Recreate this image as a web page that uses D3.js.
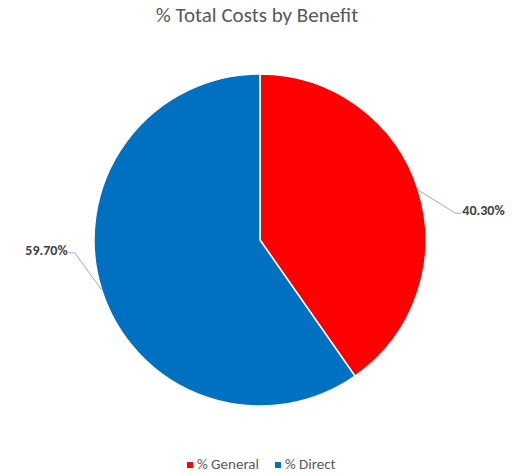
<!DOCTYPE html>
<html>
<head>
<meta charset="utf-8">
<script src="https://cdn.jsdelivr.net/npm/d3@7"></script>
<style>
  body { margin: 0; background: #fff; }
  svg { display: block; font-family: Carlito, Calibri, "Open Sans", sans-serif; }
</style>
</head>
<body>
<svg id="chart" width="512" height="476" viewBox="0 0 512 476"></svg>
<script>
var categories = ['% General', '% Direct'];
var values = [40.30, 59.70];
var labels = ['40.30%', '59.70%'];
var colours = ['#ff0000', '#0070c0'];

(function () {
  var svg = d3.select('#chart');
  var cx = 260, cy = 240, radius = 166;

  svg.append('text')
    .attr('x', 257).attr('y', 22)
    .attr('text-anchor', 'middle')
    .attr('fill', '#595959')
    .attr('font-size', 21)
    .text('% Total Costs by Benefit');

  var data = categories.map(function (c, i) {
    return { name: c, value: values[i], label: labels[i], colour: colours[i] };
  });

  var pie = d3.pie().sort(null).value(function (d) { return d.value; });
  var arcs = pie(data);
  var arc = d3.arc().innerRadius(0).outerRadius(radius);

  var g = svg.append('g').attr('transform', 'translate(' + cx + ',' + cy + ')');

  g.selectAll('path').data(arcs).enter().append('path')
    .attr('d', arc)
    .attr('fill', function (d) { return d.data.colour; })
    .attr('stroke', '#fff')
    .attr('stroke-width', 1.5);

  // leader lines: edge point -> elbow -> short horizontal to the label
  var elbow = [[37, 23], [-27, -37]];
  g.selectAll('polyline').data(arcs).enter().append('polyline')
    .attr('points', function (d, i) {
      var a = (d.startAngle + d.endAngle) / 2;
      var x0 = radius * Math.sin(a), y0 = -radius * Math.cos(a);
      var x1 = x0 + elbow[i][0], y1 = y0 + elbow[i][1];
      var x2 = x1 + (x1 > 0 ? 6 : -6);
      return [[x0, y0], [x1, y1], [x2, y1]].join(' ');
    })
    .attr('fill', 'none')
    .attr('stroke', '#a6a6a6')
    .attr('stroke-width', 1);

  g.selectAll('text.lbl').data(arcs).enter().append('text')
    .attr('class', 'lbl')
    .attr('x', function (d, i) {
      var a = (d.startAngle + d.endAngle) / 2;
      var x1 = radius * Math.sin(a) + elbow[i][0];
      return x1 > 0 ? x1 + 7 : x1 - 7;
    })
    .attr('y', function (d, i) {
      var a = (d.startAngle + d.endAngle) / 2;
      return -radius * Math.cos(a) + elbow[i][1] + 2;
    })
    .attr('text-anchor', function (d, i) {
      var a = (d.startAngle + d.endAngle) / 2;
      return Math.sin(a) > 0 ? 'start' : 'end';
    })
    .attr('fill', '#404040')
    .attr('font-size', 14)
    .attr('font-weight', 'bold')
    .text(function (d) { return d.data.label; });

  // legend
  var legend = svg.append('g').attr('transform', 'translate(187,469)');
  var offs = [0, 88];
  var items = legend.selectAll('g').data(data).enter().append('g')
    .attr('transform', function (d, i) { return 'translate(' + offs[i] + ',0)'; });
  items.append('rect')
    .attr('x', 0).attr('y', -7)
    .attr('width', 6).attr('height', 6)
    .attr('fill', function (d) { return d.colour; });
  items.append('text')
    .attr('x', 10).attr('y', 0)
    .attr('fill', '#595959')
    .attr('font-size', 15)
    .text(function (d) { return d.name; });
})();
</script>
</body>
</html>
